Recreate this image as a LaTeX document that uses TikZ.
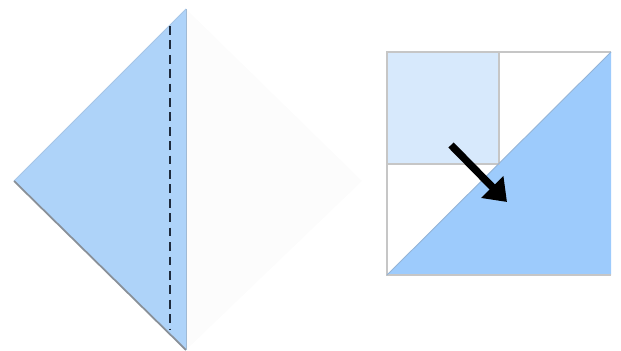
\documentclass[tikz,border=0pt]{standalone}
\usepackage{tikz}
\usetikzlibrary{arrows.meta}
\definecolor{foldblue}{HTML}{AED3F9}
\definecolor{paleblue}{HTML}{D7E9FC}
\definecolor{deepblue}{HTML}{9DCBFC}
\definecolor{edgegray}{HTML}{C6C6C6}
\definecolor{dashnavy}{HTML}{1E2A3C}

\begin{document}
\begin{tikzpicture}[x=0.02cm,y=-0.02cm,>=Triangle]
\useasboundingbox (0,0) rectangle (621,351);
% folded diamond
\coordinate (T) at (186,9);
\coordinate (L) at (14,181);
\coordinate (B) at (186,350);
\coordinate (R) at (362,181);
\fill[white!99!black] (T) -- (R) -- (B) -- cycle;
\fill[foldblue] (T) -- (L) -- (B) -- cycle;
\draw[foldblue!85!gray,line width=0.6pt] (T) -- (L);
\draw[gray!80!foldblue,line width=1pt] (L) -- (B);
\draw[foldblue!70!gray,line width=0.4pt] (T) -- (B);
\draw[dashnavy,line width=1.1pt,dash pattern=on 5pt off 3.2pt] (170,26) -- (170,330);
% unfolded square
\coordinate (SW) at (387,275);
\coordinate (NE) at (611,52);
\coordinate (NW) at (387,52);
\coordinate (SE) at (611,275);
\coordinate (C) at (499,164);
\fill[deepblue] (SW) -- (NE) -- (SE) -- cycle;
\fill[paleblue] (NW) rectangle (C);
\draw[edgegray,line width=0.6pt] (NW) rectangle (C);
\draw[edgegray,line width=0.6pt] (SE) -- (SW) -- (NW) -- (NE);
\draw[deepblue!70!gray,line width=0.5pt] (SW) -- (NE);
\coordinate (A1) at (451,145);
\coordinate (A2) at (507,202);
\draw[->,line width=4.2pt,>={Triangle[length=12pt,width=17pt]}] (A1) -- (A2);
\end{tikzpicture}
\end{document}
